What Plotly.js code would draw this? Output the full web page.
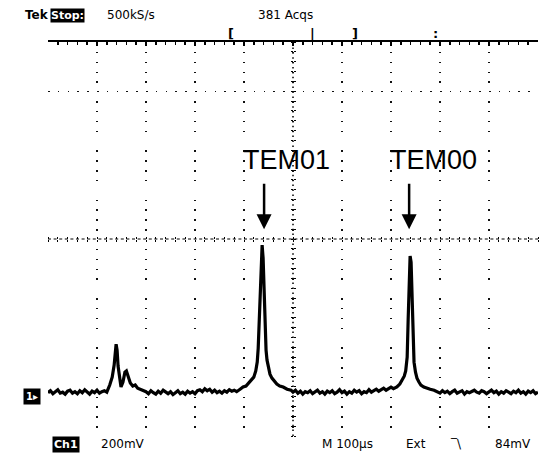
<!DOCTYPE html>
<html>
<head>
<meta charset="utf-8">
<script src="https://cdn.plot.ly/plotly-3.0.1.min.js"></script>
<style>html,body{margin:0;padding:0;background:#fff;}#chart{width:546px;height:457px;}</style>
</head>
<body>
<div id="chart"></div>
<script>
// Channel 1 trace: time (µs from left edge of screen) and voltage (mV above ground)
const timeUs = [
  0,5,10,15,20,25,30,35,40,45,50,55,60,65,70,75,80,85,90,95,100,105,110,115,120,
  122,126,131,135,139,141,143,146,149,153,157,160,164,168,173,178,183,188,194,
  200,205,210,215,220,225,230,235,240,245,250,255,260,265,270,275,280,285,290,295,
  300,305,310,315,320,325,330,335,340,345,350,355,360,365,370,375,380,385,
  392,398,404,410,416,420,424,427,429,431,433,435,437,439,441,443,445,447,450,453,457,462,467,473,480,488,496,
  500,505,510,515,520,525,530,535,540,545,550,555,560,565,570,575,580,585,590,595,
  600,605,610,615,620,625,630,635,640,645,650,655,660,665,670,675,680,685,690,695,700,705,
  712,718,722,727,730,733,735,737,739,741,743,745,747,750,753,757,761,767,773,780,788,
  795,800,805,810,815,820,825,830,835,840,845,850,855,860,865,870,875,880,885,890,895,
  900,905,910,915,920,925,930,935,940,945,950,955,960,965,970,975,980,985,990,995,1000
];
const ch1mV = [
  14,22,10,18,26,12,16,8,20,24,12,18,10,22,14,26,16,8,20,14,24,12,18,22,16,
  24,45,77,126,211,187,122,65,37,57,97,102,73,53,41,45,32,28,20,
  18,10,22,14,8,20,12,24,16,10,18,6,14,22,10,16,8,20,12,18,
  10,22,26,18,30,22,28,16,24,14,20,12,22,16,26,20,24,18,
  28,37,41,53,65,77,102,138,195,309,439,544,613,560,410,248,187,146,114,89,73,61,49,41,37,28,24,
  16,24,12,20,8,18,14,22,10,16,24,12,18,8,20,14,22,10,16,26,
  14,20,8,18,12,24,16,22,10,18,14,26,16,22,28,20,26,32,24,30,36,30,
  37,49,61,81,102,158,309,491,569,544,410,227,138,97,73,57,45,37,32,28,24,
  18,12,22,14,20,10,18,24,12,16,22,8,18,14,20,24,16,12,22,18,10,
  16,24,14,20,8,18,12,22,16,10,20,14,24,12,18,8,20,14,22,10,16
];
// Mode labels and where they point
const modeLabels = ['TEM01', 'TEM00'];
const labelTimeUs = [486, 786];
const arrowTimeUs = [441, 737];

// Scope settings
const voltsPerDivMV = 200;
const timePerDivUs = 100;
const centerMV = 638;      // level at screen centre
const headerTexts = ['500kS/s', '381 Acqs'];
const footerTexts = ['200mV', 'M 100\u00b5s', 'Ext', '\u203e\\', '84mV'];

const FONT = 'DejaVu Sans, Liberation Sans, sans-serif';
const px2x = p => (p - 48) / 490;
const py2y = p => (436 - p) / 394;

const traces = [
  {x: timeUs, y: ch1mV, type: 'scatter', mode: 'lines',
   line: {color: 'black', width: 3.2}, hoverinfo: 'skip'},
  {x: [], y: [], xaxis: 'x2', yaxis: 'y', type: 'scatter', mode: 'lines'},
  {x: [], y: [], xaxis: 'x3', yaxis: 'y', type: 'scatter', mode: 'lines'},
  {x: [], y: [], xaxis: 'x', yaxis: 'y2', type: 'scatter', mode: 'lines'},
  {x: [], y: [], xaxis: 'x', yaxis: 'y3', type: 'scatter', mode: 'lines'}
];

const xr = [0, 10 * timePerDivUs];
const yr = [centerMV - 4 * voltsPerDivMV, centerMV + 4 * voltsPerDivMV];
const tickAx = (side, extra) => Object.assign({
  showgrid: false, zeroline: false, showline: false, showticklabels: false,
  ticks: 'outside', ticklen: 2, tickwidth: 1, tickcolor: 'black',
  anchor: 'free', position: 0.5, side: side, fixedrange: true
}, extra);

const annotations = [];
// header
annotations.push({text: '<b>Tek</b>', xref: 'paper', yref: 'paper', x: px2x(23), y: py2y(15),
  xanchor: 'left', yanchor: 'middle', showarrow: false, font: {family: FONT, size: 12, color: 'black'}});
annotations.push({text: '<b>Stop:</b>', xref: 'paper', yref: 'paper', x: px2x(50), y: py2y(15),
  xanchor: 'left', yanchor: 'middle', showarrow: false, bgcolor: 'black', borderpad: 0,
  font: {family: FONT, size: 11, color: 'white'}});
annotations.push({text: headerTexts[0], xref: 'paper', yref: 'paper', x: px2x(105), y: py2y(15),
  xanchor: 'left', yanchor: 'middle', showarrow: false, font: {family: FONT, size: 12, color: 'black'}});
annotations.push({text: headerTexts[1], xref: 'paper', yref: 'paper', x: px2x(256), y: py2y(15),
  xanchor: 'left', yanchor: 'middle', showarrow: false, font: {family: FONT, size: 12, color: 'black'}});
// record view markers
[['<b>[</b>', 231], ['<b>|</b>', 312], ['<b>]</b>', 355], ['<b>:</b>', 435]].forEach(m => {
  annotations.push({text: m[0], xref: 'paper', yref: 'paper', x: px2x(m[1]), y: py2y(34),
    xanchor: 'center', yanchor: 'middle', showarrow: false, font: {family: FONT, size: 13, color: 'black'}});
});
// footer
annotations.push({text: '<b>Ch1</b>', xref: 'paper', yref: 'paper', x: px2x(52), y: py2y(444),
  xanchor: 'left', yanchor: 'middle', showarrow: false, bgcolor: 'black', borderpad: 1,
  font: {family: FONT, size: 11, color: 'white'}});
const footX = [99, 320, 404, 448, 493];
footerTexts.forEach((t, i) => {
  annotations.push({text: t, xref: 'paper', yref: 'paper', x: px2x(footX[i]), y: py2y(444),
    xanchor: 'left', yanchor: 'middle', showarrow: false, font: {family: FONT, size: 12, color: 'black'}});
});
// ground marker
annotations.push({text: '<b>1\u25b8</b>', xref: 'paper', yref: 'y', x: px2x(23), y: 0,
  xanchor: 'left', yanchor: 'middle', showarrow: false, bgcolor: 'black', borderpad: 2,
  font: {family: FONT, size: 10, color: 'white'}});
// mode labels and arrows
modeLabels.forEach((lab, i) => {
  annotations.push({text: lab, xref: 'x', yref: 'y', x: labelTimeUs[i], y: centerMV + 1.6 * voltsPerDivMV,
    xanchor: 'center', yanchor: 'middle', showarrow: false,
    font: {family: 'Liberation Sans, Arial, sans-serif', size: 27, color: 'black'}});
  annotations.push({text: '', xref: 'x', yref: 'y', x: arrowTimeUs[i], y: centerMV + 0.2 * voltsPerDivMV,
    ax: 0, ay: -47, showarrow: true, arrowhead: 2, arrowsize: 1.2, arrowwidth: 2.5, arrowcolor: 'black', standoff: 0});
});

const layout = {
  width: 546, height: 457,
  margin: {l: 48, r: 8, t: 42, b: 21, pad: 0},
  paper_bgcolor: 'white', plot_bgcolor: 'white',
  showlegend: false,
  xaxis: {range: xr, dtick: timePerDivUs, tick0: 0, showgrid: true, gridcolor: '#111', gridwidth: 1.5,
    griddash: '0px,9.85px,1.5px,8.35px,1.5px,8.35px,1.5px,8.35px,1.5px,8.35px',
    zeroline: false, side: 'top', showline: true, linecolor: 'black', linewidth: 2,
    ticks: 'inside', ticklen: 4, tickcolor: 'black', tickwidth: 1.5, showticklabels: false, fixedrange: true,
    minor: {dtick: timePerDivUs / 5, ticks: 'inside', ticklen: 3, tickcolor: 'black', tickwidth: 1.5, showgrid: false}},
  yaxis: {range: yr, tickmode: 'array', tickvals: [centerMV + 3 * voltsPerDivMV, centerMV - 4 * voltsPerDivMV],
    showgrid: true, gridcolor: '#111', gridwidth: 1.5,
    griddash: '1.5px,8.3px', zeroline: false, showline: false, ticks: '', showticklabels: false, fixedrange: true},
  xaxis2: tickAx('bottom', {overlaying: 'x', range: xr, dtick: timePerDivUs / 5, tick0: 0}),
  xaxis3: tickAx('top', {overlaying: 'x', range: xr, dtick: timePerDivUs / 5, tick0: 0}),
  yaxis2: tickAx('left', {overlaying: 'y', range: yr, dtick: voltsPerDivMV / 5, tick0: centerMV}),
  yaxis3: tickAx('right', {overlaying: 'y', range: yr, dtick: voltsPerDivMV / 5, tick0: centerMV}),
  shapes: [
    {type: 'line', xref: 'paper', x0: 0, x1: 1, yref: 'y', y0: centerMV, y1: centerMV,
     line: {color: 'black', width: 1.2, dash: '3px,2.6px'}, layer: 'below'},
    {type: 'line', xref: 'x', x0: 5 * timePerDivUs, x1: 5 * timePerDivUs, yref: 'paper', y0: 0, y1: 1,
     line: {color: 'black', width: 1.5, dash: '1.5px,3.4px'}, layer: 'below'}
  ],
  annotations: annotations
};

Plotly.newPlot('chart', traces, layout, {staticPlot: true, displayModeBar: false});
</script>
</body>
</html>
